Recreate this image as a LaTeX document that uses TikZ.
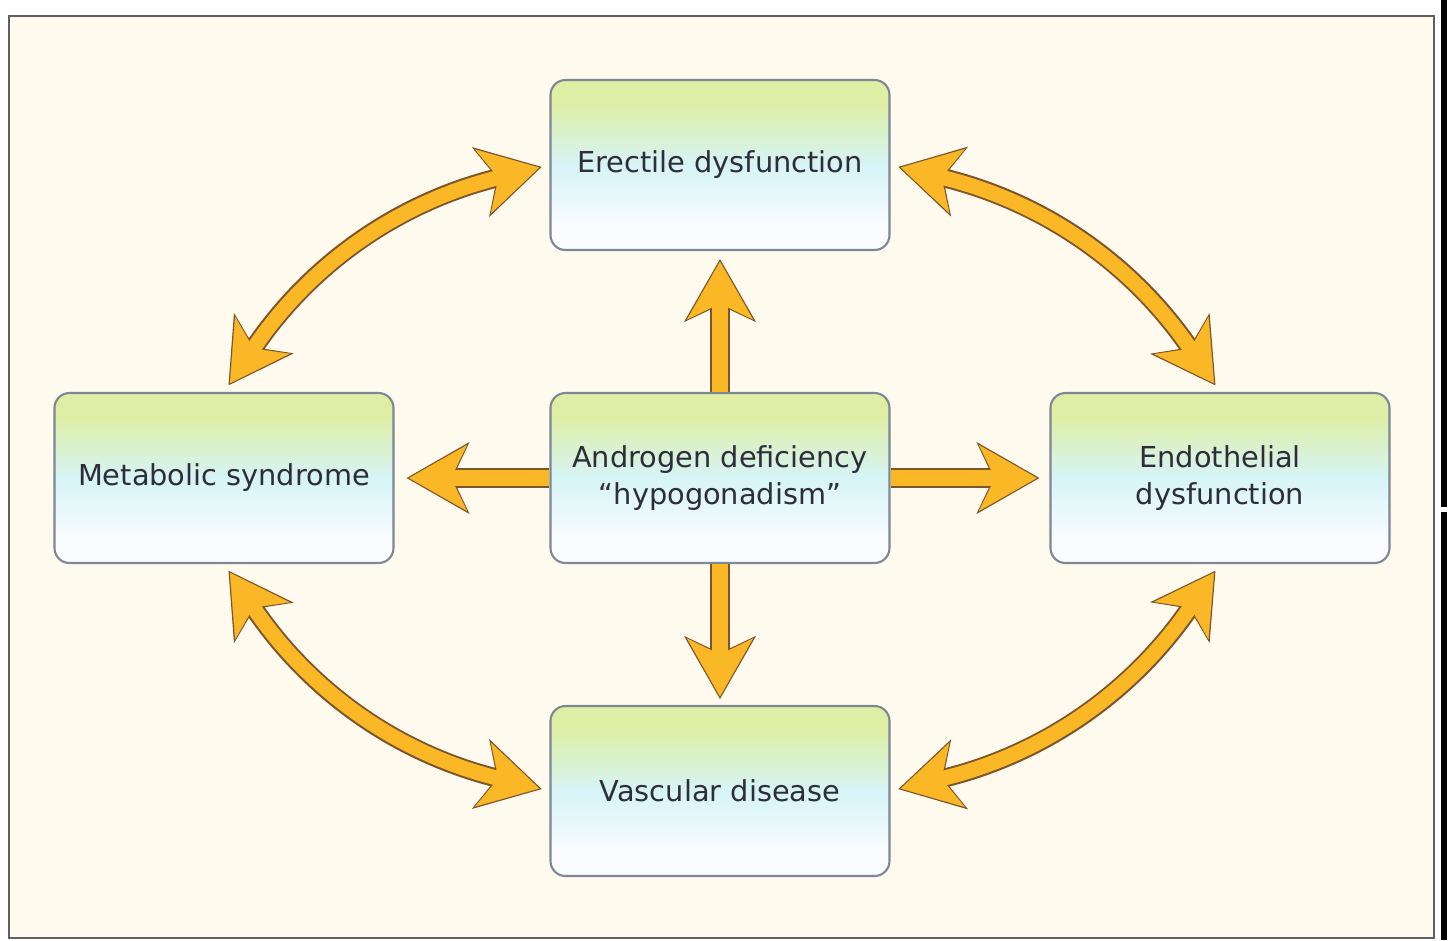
\documentclass[tikz,border=0pt]{standalone}
\usepackage{fontspec}
\setmainfont{DejaVu Sans}
\usetikzlibrary{arrows.meta,positioning}

\definecolor{paper}{RGB}{255,250,238}
\definecolor{frameline}{RGB}{95,95,100}
\definecolor{arrowfill}{RGB}{251,184,38}
\definecolor{arrowedge}{RGB}{125,85,45}
\definecolor{boxedge}{RGB}{125,135,150}
\definecolor{boxtop}{RGB}{222,238,165}
\definecolor{boxmid}{RGB}{214,244,246}
\definecolor{boxlow}{RGB}{250,252,255}
\definecolor{ink}{RGB}{45,45,60}

\pgfdeclareverticalshading{boxshade}{100bp}{color(0bp)=(boxlow); color(32bp)=(boxlow);
  color(50bp)=(boxmid); color(68bp)=(boxtop); color(100bp)=(boxtop)}

\tikzset{
  factorbox/.style={rectangle, rounded corners=0.15cm, draw=boxedge, line width=0.6pt,
    shading=boxshade,
    minimum width=3.39cm, minimum height=1.70cm, inner sep=0pt, align=center,
    text=ink, font=\fontsize{8.2}{10.3}\selectfont},
  edgehead/.tip={Stealth[length=0.63cm, width=0.72cm, inset=0.17cm,
    fill=arrowedge, color=arrowedge, line width=0.3pt]},
  fillhead/.tip={Stealth[length=0.58cm, width=0.66cm, inset=0.16cm,
    fill=arrowfill, color=arrowfill, line width=0.1pt]},
  % one head, pointing away from the centre box
  outward/.style={line width=0.16cm, draw=arrowfill, arrows={-fillhead},
    shorten >=#1+0.025cm,
    preaction={draw=arrowedge, line width=0.20cm, arrows={-edgehead}, shorten >=#1}},
  % heads on both ends
  mutual/.style={line width=0.15cm, draw=arrowfill, arrows={fillhead-fillhead},
    shorten <=0.105cm, shorten >=0.105cm,
    preaction={draw=arrowedge, line width=0.19cm, arrows={edgehead-edgehead},
      shorten <=0.08cm, shorten >=0.08cm}}
}

\begin{document}
\begin{tikzpicture}[node distance=3cm, on grid]
  \useasboundingbox (0,0) rectangle (14.48,-9.40);
  \fill[white] (0,0) rectangle (14.48,-9.40);
  \draw[frameline, fill=paper, line width=0.5pt] (0.09,-0.16) rectangle (14.34,-9.38);
  \fill[black] (14.41,0) rectangle (14.47,-5.07);
  \fill[black] (14.41,-5.12) rectangle (14.47,-9.40);

  \node[factorbox] (andro) at (7.20,-4.78) {Androgen deficiency\\“hypogonadism”};
  \node[factorbox, above=3.13cm of andro] (erect) {Erectile dysfunction};
  \node[factorbox, below=3.13cm of andro] (vasc) {Vascular disease};
  \node[factorbox, left=4.96cm of andro] (meta) {Metabolic syndrome};
  \node[factorbox, right=5.00cm of andro] (endo) {Endothelial\\dysfunction};

  \draw[outward=0.08cm] (andro.north) -- (erect.south);
  \draw[outward=0.06cm] (andro.south) -- (vasc.north);
  \draw[outward=0.12cm] (andro.west) -- (meta.east);
  \draw[outward=0.10cm] (andro.east) -- (endo.west);

  \draw[mutual] (meta.north) to[bend left=21] (erect.west);
  \draw[mutual] (erect.east) to[bend left=21] (endo.north);
  \draw[mutual] (meta.south) to[bend right=21] (vasc.west);
  \draw[mutual] (vasc.east) to[bend right=21] (endo.south);
\end{tikzpicture}
\end{document}
